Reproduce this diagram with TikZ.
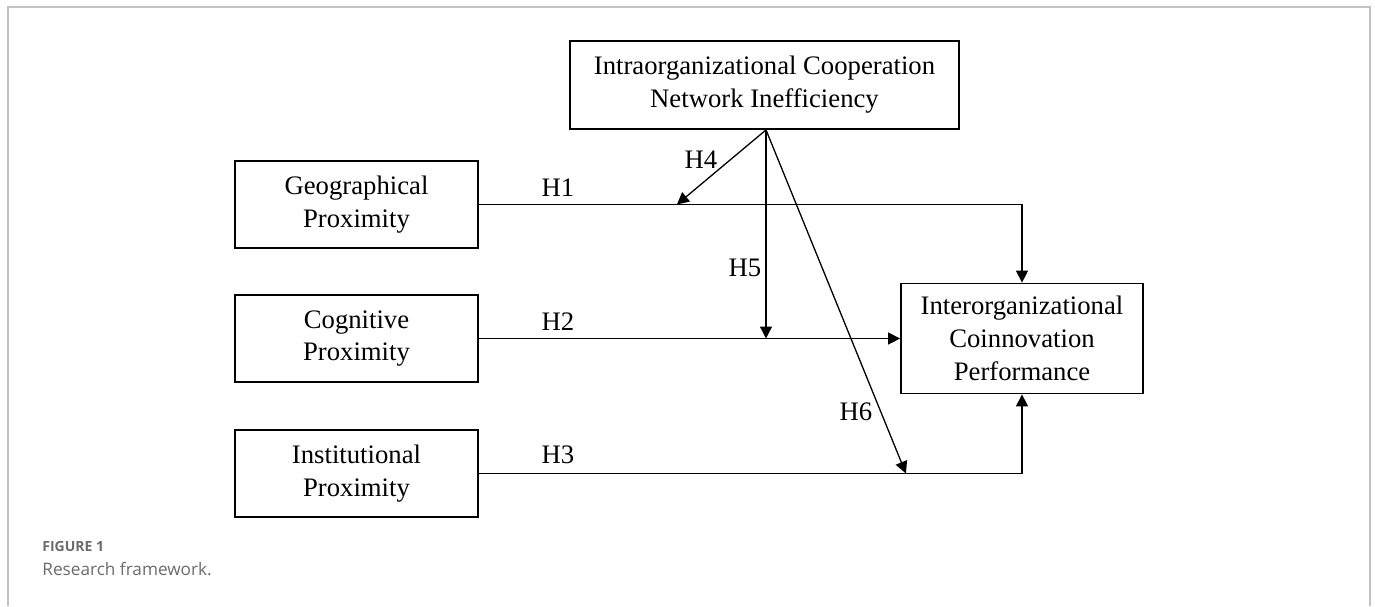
\documentclass[tikz,border=0pt]{standalone}
\usepackage{fontspec}
\setmainfont{Liberation Serif}
\newfontfamily\capfont{Open Sans}
\usetikzlibrary{arrows.meta, positioning, calc}
\definecolor{frgrey}{HTML}{C2C2C2}
\definecolor{capgrey}{HTML}{6B6B6B}

\begin{document}
\begin{tikzpicture}[x=.5pt, y=-.5pt, font=\fontsize{13.35}{16.4}\selectfont,
      box/.style={draw, line width=.9pt, align=center, inner sep=0pt},
      prox/.style={box, minimum width=121.5pt, minimum height=43.5pt},
      hyp/.style={inner sep=0pt},
      link/.style={line width=.65pt, -{Triangle[length=6pt, width=6pt]}},
      captxt/.style={text=capgrey, anchor=west, inner sep=0pt}]

      \useasboundingbox (0,0) rectangle (1375,606);
      \draw[frgrey, line width=1pt] (8,606) |- (1370,7) -- (1370,606);

      % moderator on top, the three proximities on the left
      \node[box, minimum width=194.5pt, minimum height=44pt] (intra) at (764.5,85) {Intraorganizational Cooperation\\Network Inefficiency};
      \node[prox] (geo) at (356.5,204.5) {Geographical\\Proximity};
      \node[prox] (cog) at (356.5,338.5) {Cognitive\\Proximity};
      \node[prox] (inst) at (356.5,473.5) {Institutional\\Proximity};
      \node[box, minimum width=121pt, minimum height=55pt] (perf) at (1022,338.5) {Interorganizational\\Coinnovation\\Performance};

      % direct effects
      \draw[link] (geo.east) -| (perf.north);
      \draw[link] (cog.east) -- (perf.west);
      \draw[link] (inst.east) -| (perf.south);

      % moderating effects
      \coordinate (src) at ($(intra.south)+(1.5,0)$);
      \coordinate (m1) at ($(geo.east)+(198,0)$);
      \coordinate (m3) at ($(inst.east)+(427,0)$);
      \draw[link] (src) -- (m1);
      \draw[link] (src) -- (src |- cog.east);
      \draw[link] (src) -- (m3);

      \node[hyp] (h1) at (558,188) {H1};
      \node[hyp] (h2) at (558,322) {H2};
      \node[hyp] (h3) at (558,455) {H3};
      \node[hyp] (h4) at (701,160) {H4};
      \node[hyp] (h5) at (745,268) {H5};
      \node[hyp] (h6) at (856,412) {H6};

      \node[captxt, font=\capfont\bfseries\fontsize{7}{8.4}\selectfont] (fig) at (42,546) {FIGURE 1};
      \node[captxt, font=\capfont\fontsize{8.6}{10}\selectfont] (title) at (42,569) {Research framework.};
    \end{tikzpicture}
\end{document}
